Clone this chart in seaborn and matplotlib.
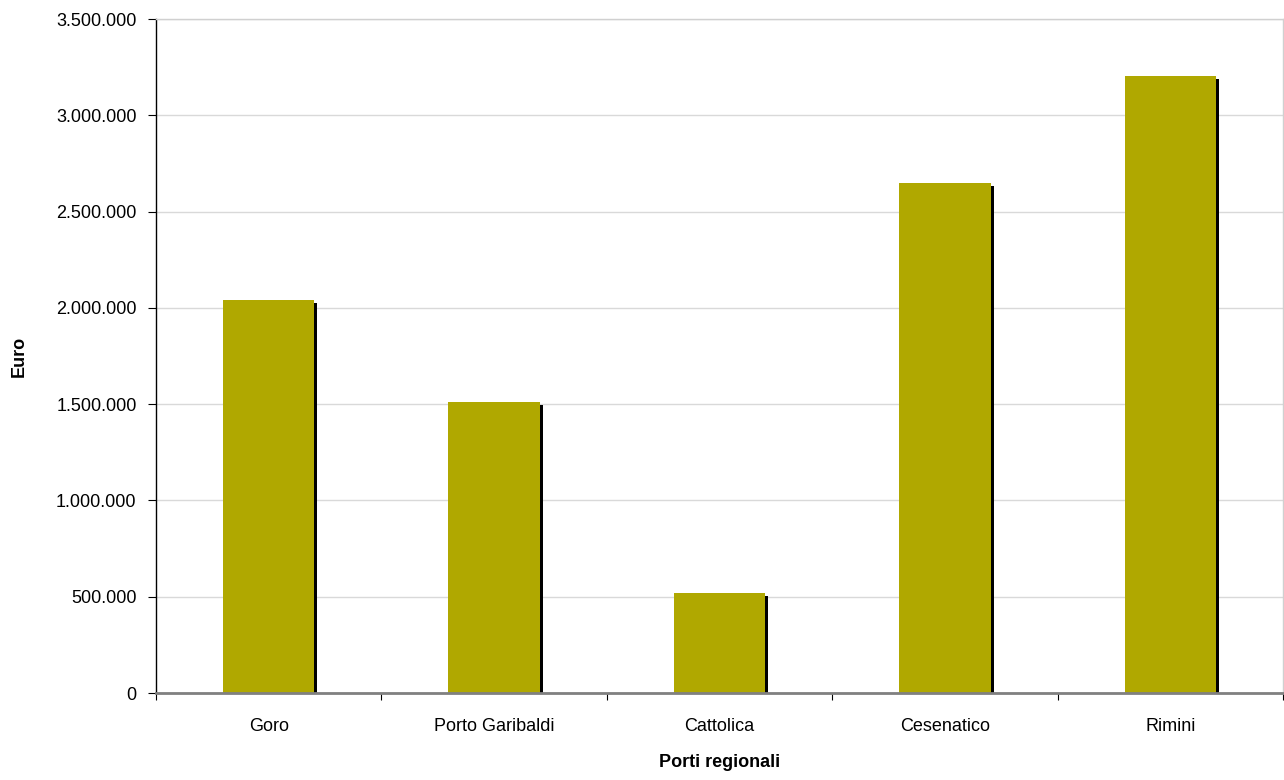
import matplotlib
matplotlib.use("Agg")
import matplotlib.pyplot as plt
import matplotlib.patheffects as pe
from matplotlib.ticker import FuncFormatter, MultipleLocator, FixedLocator
import seaborn as sns
import pandas as pd

porti = ["Goro", "Porto Garibaldi", "Cattolica", "Cesenatico", "Rimini"]
euro = [2040000, 1511000, 519000, 2648000, 3205000]

sns.set_theme(style="white")
plt.rcParams["font.family"] = ["Liberation Sans", "DejaVu Sans"]

df = pd.DataFrame({"Porto": porti, "Euro": euro})

fig = plt.figure(figsize=(12.84, 7.80), dpi=100)
ax = fig.add_axes([156 / 1284, 1 - 693 / 780, 1127 / 1284, 674 / 780])

sns.barplot(data=df, x="Porto", y="Euro", color="#B0A800", saturation=1,
            width=0.405, ax=ax, zorder=3)

shadow = [pe.SimplePatchShadow(offset=(2.2, -2.2), shadow_rgbFace="black", alpha=1.0),
          pe.Normal()]
for patch in ax.patches:
    patch.set_edgecolor("none")
    patch.set_path_effects(shadow)

ax.set_ylim(0, 3500000)
ax.set_xlim(-0.5, len(porti) - 0.5)
ax.yaxis.set_major_locator(MultipleLocator(500000))
ax.yaxis.set_major_formatter(FuncFormatter(lambda v, p: f"{int(v):,}".replace(",", ".")))
ax.grid(axis="y", color="#d9d9d9", linewidth=1.0, zorder=0)
ax.set_axisbelow(True)

# category boundaries carry the tick marks, centres carry the labels
ax.xaxis.set_major_locator(FixedLocator([i - 0.5 for i in range(len(porti) + 1)]))
ax.xaxis.set_major_formatter(FuncFormatter(lambda v, p: ""))
ax.xaxis.set_minor_locator(FixedLocator(list(range(len(porti)))))
ax.set_xticks(range(len(porti)), porti, minor=True)
ax.tick_params(axis="x", which="major", direction="out", length=5, width=0.8,
               color="black", bottom=True)
ax.tick_params(axis="x", which="minor", length=0, pad=18, labelsize=13,
               labelcolor="black")
ax.tick_params(axis="y", direction="out", length=6, width=0.8, color="black",
               left=True, pad=8, labelsize=13, labelcolor="black")

for side in ["top", "right"]:
    ax.spines[side].set_visible(True)
    ax.spines[side].set_color("#d0d0d0")
    ax.spines[side].set_linewidth(1.0)
ax.spines["left"].set_color("black")
ax.spines["left"].set_linewidth(1.0)
ax.spines["bottom"].set_color("#808080")
ax.spines["bottom"].set_linewidth(2.0)
for s in ax.spines.values():
    s.set_zorder(4)

ax.set_xlabel("Porti regionali", fontsize=13, fontweight="bold", color="black", labelpad=14)
ax.set_ylabel("Euro", fontsize=13, fontweight="bold", color="black")
ax.yaxis.set_label_coords(-0.1136, 0.5)

fig.savefig("out.png", dpi=100, facecolor="white")
